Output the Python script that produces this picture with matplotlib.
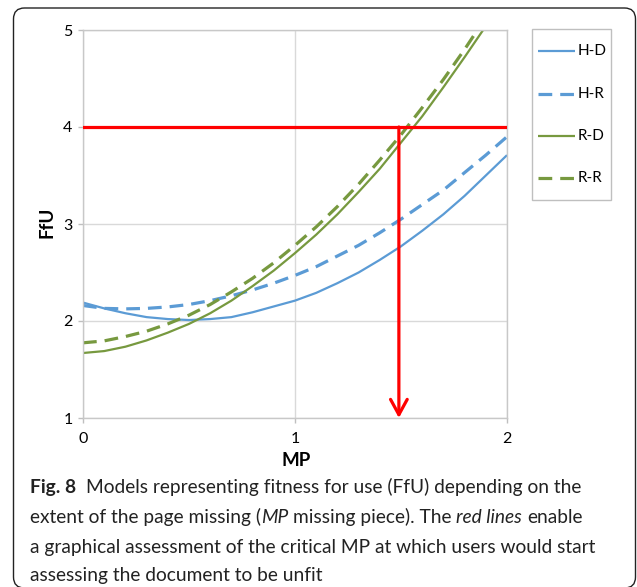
import matplotlib
matplotlib.use("Agg")
import matplotlib.pyplot as plt
import matplotlib.transforms as mtransforms
from matplotlib.lines import Line2D
from matplotlib.patches import Rectangle, FancyBboxPatch

# Data (FfU against MP)
mp = [0.0, 0.1, 0.2, 0.3, 0.4, 0.5, 0.6, 0.7, 0.8, 0.9, 1.0,
      1.1, 1.2, 1.3, 1.4, 1.5, 1.6, 1.7, 1.8, 1.9, 2.0]
h_d = [2.19, 2.13, 2.08, 2.04, 2.02, 2.01, 2.02, 2.04, 2.09, 2.15, 2.21,
       2.29, 2.39, 2.50, 2.63, 2.77, 2.93, 3.10, 3.29, 3.50, 3.71]
h_r = [2.16, 2.13, 2.125, 2.13, 2.145, 2.17, 2.21, 2.26, 2.32, 2.39, 2.47,
       2.56, 2.67, 2.78, 2.91, 3.05, 3.20, 3.35, 3.53, 3.71, 3.90]
r_d = [1.67, 1.69, 1.735, 1.80, 1.88, 1.97, 2.08, 2.21, 2.36, 2.52, 2.70,
       2.89, 3.10, 3.33, 3.57, 3.84, 4.11, 4.41, 4.72, 5.04, 5.39]
r_r = [1.775, 1.795, 1.84, 1.895, 1.97, 2.06, 2.17, 2.30, 2.44, 2.60, 2.78,
       2.97, 3.18, 3.41, 3.66, 3.92, 4.20, 4.49, 4.80, 5.13, 5.48]
series_names = ["H-D", "H-R", "R-D", "R-R"]

critical_ffu = 4
critical_mp = 1.49
x_ticks = [0, 1, 2]
y_ticks = [1, 2, 3, 4, 5]

caption_lines = [
    [("Fig. 8", "bold"), ("  Models representing fitness for use (FfU) depending on the", "normal")],
    [("extent of the page missing (", "normal"), ("MP", "italic"),
     (" missing piece). The ", "normal"), ("red lines", "italic"), (" enable", "normal")],
    [("a graphical assessment of the critical MP at which users would start", "normal")],
    [("assessing the document to be unfit", "normal")],
]

BLUE = "#5B9BD5"
GREEN = "#77993F"
RED = "#FF0000"
W, H = 637, 587
CHART_FONT = ["Lato", "DejaVu Sans"]
CAP_FONT = ["Lato", "DejaVu Sans"]

fig = plt.figure(figsize=(W / 100, H / 100), dpi=100)
px = mtransforms.Affine2D().scale(1, -1).translate(0, H)  # image pixel coords

# rounded frame around figure + caption
frame = FancyBboxPatch((13.5, -1), 622, 580, boxstyle="round,pad=0,rounding_size=11",
                       transform=None, fill=False, edgecolor="#222222", lw=1.0)
fig.add_artist(frame)

ax = fig.add_axes([83 / W, 1 - 418 / H, 424 / W, 388 / H])

styles = [
    dict(color=BLUE, lw=1.6, ls="-"),
    dict(color=BLUE, lw=2.3, ls=(0, (4.3, 2.5))),
    dict(color=GREEN, lw=1.6, ls="-"),
    dict(color=GREEN, lw=2.3, ls=(0, (4.3, 2.5))),
]
for vals, st in zip([h_d, h_r, r_d, r_r], styles):
    ax.plot(mp, vals, color=st["color"], lw=st["lw"], linestyle=st["ls"],
            solid_capstyle="butt", dash_capstyle="butt", zorder=2)

# critical value lines
ax.axhline(critical_ffu, color=RED, lw=2.3, zorder=3)
ax.annotate("", xy=(critical_mp, y_ticks[0]), xytext=(critical_mp, critical_ffu),
            arrowprops=dict(arrowstyle="->,head_length=0.55,head_width=0.3",
                            color=RED, lw=2.3, shrinkA=0, shrinkB=0,
                            mutation_scale=20), zorder=3)

ax.set_xlim(x_ticks[0], x_ticks[-1])
ax.set_ylim(y_ticks[0], y_ticks[-1])
ax.set_xticks(x_ticks)
ax.set_yticks(y_ticks)
ax.grid(True, color="#D9D9D9", lw=1.0, zorder=0)
ax.set_axisbelow(True)
for sp in ax.spines.values():
    sp.set_color("#C8C8C8")
    sp.set_linewidth(1.0)
ax.tick_params(length=3.6, width=1.0, color="#BFBFBF", labelsize=11.5)
ax.tick_params(axis="y", pad=4)
ax.tick_params(axis="x", pad=6.5)
for lab in ax.get_xticklabels() + ax.get_yticklabels():
    lab.set_family(CHART_FONT)

fig.text(47, 222, "FfU", transform=px, rotation=90, ha="center", va="center",
         fontsize=13.5, fontweight="bold", family=CHART_FONT)
fig.text(296, 460, "MP", transform=px, ha="center", va="center",
         fontsize=13.5, fontweight="bold", family=CHART_FONT)

# legend box drawn by hand so the paddings match
fig.add_artist(Rectangle((532, 29), 79, 171, transform=px, fill=False,
                         edgecolor="#BFBFBF", lw=1.0))
legend_y = [51, 94, 136, 178]
for name, st, ly in zip(series_names, styles, legend_y):
    fig.add_artist(Line2D([538, 575], [ly, ly], transform=px, color=st["color"],
                          lw=st["lw"], linestyle=st["ls"], solid_capstyle="butt",
                          dash_capstyle="butt"))
    fig.text(578, ly, name, transform=px, ha="left", va="center",
             fontsize=11, family=CHART_FONT)

# caption with mixed bold / italic runs
renderer = fig.canvas.get_renderer()
cap_props = dict(fontsize=13.5, family=CAP_FONT, color="#222222")


def text_width(s, props):
    t = fig.text(0, 0, s, transform=px, **props)
    w = t.get_window_extent(renderer).width
    t.remove()
    return w


# size the caption so the third line spans the same width as in the original
full3 = caption_lines[2][0][0]
cap_props["fontsize"] *= 568 / text_width(full3, cap_props)


def run_props(style):
    p = dict(cap_props)
    if style == "bold":
        p["fontweight"] = "bold"
    elif style == "italic":
        p["fontstyle"] = "italic"
    return p


space_w = text_width("n n", cap_props) - text_width("nn", cap_props)
baselines = [493, 523, 553, 581]
for runs, by in zip(caption_lines, baselines):
    x = 30
    for s, style in runs:
        props = run_props(style)
        x += (len(s) - len(s.lstrip(" "))) * space_w
        core = s.strip(" ")
        t = fig.text(x, by, core, transform=px, va="baseline", ha="left", **props)
        x += t.get_window_extent(renderer).width
        x += (len(s) - len(s.rstrip(" "))) * space_w

fig.savefig("out.png", dpi=100)
